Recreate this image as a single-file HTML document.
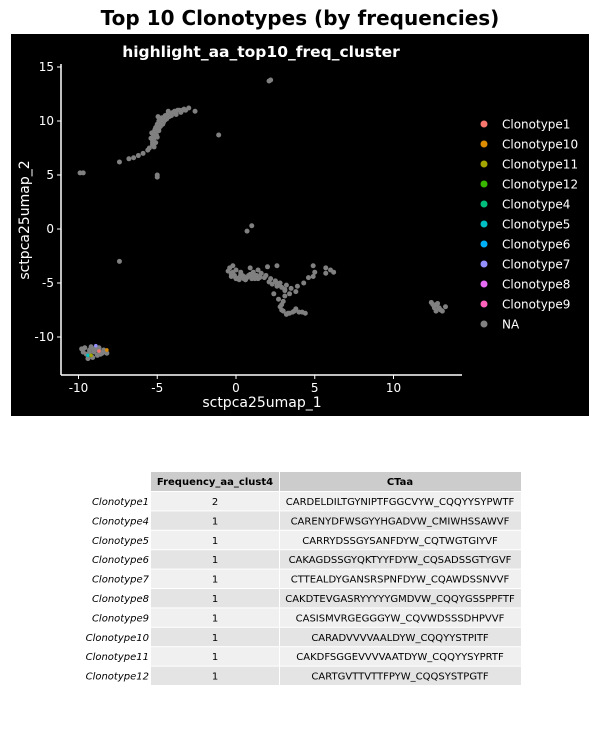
<!DOCTYPE html>
<html><head><meta charset="utf-8"><style>
body{margin:0;width:600px;height:750px;background:#fff;font-family:"DejaVu Sans","Liberation Sans",sans-serif;overflow:hidden}
svg{position:absolute;left:0;top:0}
</style></head><body>
<svg id="chart" width="600" height="750">
<text x="300" y="25" text-anchor="middle" font-size="20" font-weight="bold" fill="#000">Top 10 Clonotypes (by frequencies)</text>
<rect x="11" y="34" width="578" height="382" fill="#000"/>
<text x="261" y="57" text-anchor="middle" font-size="15.5" font-weight="bold" fill="#fff">highlight_aa_top10_freq_cluster</text>
<g id="points"></g>
<line x1="61" y1="64" x2="61" y2="375" stroke="#fff" stroke-width="1.5"/>
<line x1="61" y1="375" x2="462" y2="375" stroke="#fff" stroke-width="1.5"/>
<g id="axes"></g>
<text x="262" y="407" text-anchor="middle" font-size="14" fill="#fff">sctpca25umap_1</text>
<text x="29" y="220" text-anchor="middle" font-size="14" fill="#fff" transform="rotate(-90 29 220)">sctpca25umap_2</text>
<g id="legend"></g>
<g id="table"></g>
</svg>
<script>
const xTicks=[-10,-5,0,5,10];
const yTicks=[15,10,5,0,-5,-10];
const umapX=[-5.3,-5.3,-5.25,-5.2,-5.1,-5.0,-4.9,-4.7,-4.5,-4.2,-3.9,-3.6,-3.3,-3.0,-2.6,-5.1,-5.0,-4.9,-4.8,-4.6,-4.4,-4.1,-3.8,-3.5,-5.4,-5.2,-4.7,-5.35,-5.15,-4.95,-4.3,-3.7,
-5.3,-5.2,-5.1,-5.0,-4.85,-4.75,-4.55,-4.35,-4.0,-3.4,-3.2,-5.25,-5.05,-4.9,-4.65,-4.5,-4.25,
-5.6,-5.9,-6.2,-6.5,-6.8,-7.4,-5.5,-1.1,-9.9,-9.7,-5.0,-5.0,2.2,2.1,1.0,0.7,-7.4,
-0.4,-0.2,0,-0.3,0.2,0.5,0.8,1.1,1.4,1.6,1.2,0.6,0.0,1.9,2.2,2.5,2.8,2.9,3.1,2.6,2.4,2.7,3.0,2.8,3.0,3.3,3.6,4.0,4.4,3.8,3.2,3.5,3.9,4.3,4.6,3.4,2.6,2.0,4.9,5.0,4.9,5.7,6.0,6.2,5.7,3.8,0.9,0.3,1.5,-0.2,0.4,1.0,-0.1,
-0.5,-0.3,-0.1,0.1,0.3,0.5,0.7,0.9,1.1,1.3,1.5,0.2,0.6,1.0,1.4,1.8,2.1,2.3,2.7,3.1,2.9,3.2,3.4,3.7,4.2,2.9,3.1,2.6,
12.4,12.7,12.9,13.1,12.7,13.3,12.8,12.6,13.0,12.5,
-9.6,-9.3,-9.0,-8.7,-8.4,-9.5,-9.1,-8.8,-9.4,-9.2,-8.5,-9.7,-8.9,-8.3,-9.0,-8.6,-8.2,-9.8,-9.3,-8.7,
-8.7,-8.2,-8.9,-9.4,-9.2];
const umapY=[7.8,8.2,8.6,9.0,9.4,9.7,10.0,10.3,10.5,10.7,10.9,11.0,11.1,11.2,10.9,8.0,8.5,9.1,9.5,9.9,10.2,10.5,10.6,10.8,8.4,7.6,9.8,8.9,9.2,10.4,10.9,11.0,
8.0,8.4,8.8,9.2,9.6,10.0,10.3,10.6,10.8,11.0,11.0,8.3,8.7,9.3,9.7,10.1,10.4,
7.3,7.0,6.8,6.6,6.5,6.2,7.5,8.7,5.2,5.2,5.0,4.8,13.8,13.7,0.3,-0.2,-3.0,
-3.6,-3.4,-3.8,-4.2,-4.5,-4.4,-4.3,-4.0,-3.8,-4.1,-4.6,-4.7,-4.6,-4.3,-4.6,-4.8,-5.0,-5.4,-5.6,-5.3,-6.0,-6.5,-6.7,-7.2,-7.6,-7.8,-7.7,-7.7,-7.8,-7.4,-5.2,-5.5,-5.3,-5.0,-4.5,-6.0,-3.4,-3.5,-3.4,-4.0,-4.4,-3.6,-3.8,-4.0,-4.1,-5.8,-3.6,-4.0,-4.5,-4.0,-4.3,-4.5,-4.4,
-3.9,-4.4,-4.3,-4.6,-4.2,-4.6,-4.5,-4.2,-4.4,-4.3,-4.4,-4.7,-4.7,-4.6,-4.6,-4.5,-4.9,-5.1,-5.2,-5.7,-7.5,-7.9,-7.8,-7.6,-7.7,-7.0,-6.2,-5.0,
-6.8,-7.0,-7.3,-7.6,-7.6,-7.2,-6.9,-7.3,-7.5,-7.0,
-11.0,-11.2,-11.4,-11.3,-11.2,-11.6,-11.9,-11.7,-12.0,-10.9,-11.5,-11.4,-11.0,-11.4,-11.2,-11.6,-11.5,-11.1,-11.4,-11.0,
-11.3,-11.2,-10.8,-11.7,-11.7];
const pointGroup=umapX.map((_,i)=>'NA');
pointGroup[umapX.length-5]='Clonotype1';
pointGroup[umapX.length-4]='Clonotype10';
pointGroup[umapX.length-3]='Clonotype7';
pointGroup[umapX.length-2]='Clonotype5';
pointGroup[umapX.length-1]='Clonotype11';
const legendLabels=['Clonotype1','Clonotype10','Clonotype11','Clonotype12','Clonotype4','Clonotype5','Clonotype6','Clonotype7','Clonotype8','Clonotype9','NA'];
const legendColors=['#F8766D','#DE8C00','#A3A500','#39B600','#00BF7D','#00BFC4','#00B0F6','#9590FF','#E76BF3','#FF62BC','#808080'];
const tableRows=['Clonotype1','Clonotype4','Clonotype5','Clonotype6','Clonotype7','Clonotype8','Clonotype9','Clonotype10','Clonotype11','Clonotype12'];
const tableFreq=[2,1,1,1,1,1,1,1,1,1];
const tableCTaa=['CARDELDILTGYNIPTFGGCVYW_CQQYYSYPWTF','CARENYDFWSGYYHGADVW_CMIWHSSAWVF','CARRYDSSGYSANFDYW_CQTWGTGIYVF','CAKAGDSSGYQKTYYFDYW_CQSADSSGTYGVF','CTTEALDYGANSRSPNFDYW_CQAWDSSNVVF','CAKDTEVGASRYYYYYGMDVW_CQQYGSSPPFTF','CASISMVRGEGGGYW_CQVWDSSSDHPVVF','CARADVVVVAALDYW_CQQYYSTPITF','CAKDFSGGEVVVVAATDYW_CQQYYSYPRTF','CARTGVTTVTTFPYW_CQQSYSTPGTF'];

const NS='http://www.w3.org/2000/svg';
const sx=v=>236+v*15.75, sy=v=>229-v*10.8;
function mk(tag,attrs,parent){const e=document.createElementNS(NS,tag);for(const k in attrs)e.setAttribute(k,attrs[k]);parent.appendChild(e);return e;}
const pts=document.getElementById('points');
const order=umapX.map((_,i)=>i).sort((a,b)=>(pointGroup[a]==='NA'?0:1)-(pointGroup[b]==='NA'?0:1));
order.forEach(i=>{
  const na=pointGroup[i]==='NA';
  const c=mk('circle',{cx:sx(umapX[i]),cy:sy(umapY[i]),r:na?2.5:1.8,fill:legendColors[legendLabels.indexOf(pointGroup[i])]},pts);
  
  
});
const ax=document.getElementById('axes');
xTicks.forEach(t=>{
  const l=mk('line',{x1:sx(t),x2:sx(t),y1:375,y2:379,stroke:'#fff'},ax);
  
  
  const tx=mk('text',{x:sx(t),y:392,'text-anchor':'middle','font-size':12,fill:'#fff'},ax);tx.textContent=t;
  
  
});
yTicks.forEach(t=>{
  const l=mk('line',{x1:57,x2:61,y1:sy(t),y2:sy(t),stroke:'#fff'},ax);
  
  
  const tx=mk('text',{x:54,y:sy(t)+4,'text-anchor':'end','font-size':12,fill:'#fff'},ax);tx.textContent=t;
  
  
});
const lg=document.getElementById('legend');
legendLabels.forEach((lab,i)=>{
  const y=124+i*20;
  const c=mk('circle',{cx:484,cy:y,r:3.5,fill:legendColors[i]},lg);
  
  
  const t=mk('text',{x:502,y:y+4.5,'font-size':12,fill:'#fff'},lg);t.textContent=lab;
  
  
});
const tb=document.getElementById('table');
mk('rect',{x:151,y:472,width:128,height:19,fill:'#cccccc'},tb);
mk('rect',{x:280,y:472,width:241,height:19,fill:'#cccccc'},tb);
const ht1=mk('text',{x:215,y:485,'text-anchor':'middle','font-size':10,'font-weight':'bold',fill:'#000'},tb);ht1.textContent='Frequency_aa_clust4';


const ht2=mk('text',{x:400,y:485,'text-anchor':'middle','font-size':10,'font-weight':'bold',fill:'#000'},tb);ht2.textContent='CTaa';


tableRows.forEach((r,i)=>{
  const y=492+i*19.4, fill=i%2?'#e4e4e4':'#f0f0f0';
  mk('rect',{x:151,y:y,width:128,height:18.4,fill:fill},tb);
  mk('rect',{x:280,y:y,width:241,height:18.4,fill:fill},tb);
  const a=mk('text',{x:149,y:y+13,'text-anchor':'end','font-size':10,'font-style':'italic',fill:'#000'},tb);a.textContent=r;
  
  
  const b=mk('text',{x:215,y:y+13,'text-anchor':'middle','font-size':10,fill:'#000'},tb);b.textContent=tableFreq[i];
  
  
  const c=mk('text',{x:400,y:y+13,'text-anchor':'middle','font-size':10,fill:'#000'},tb);c.textContent=tableCTaa[i];
  
  
});
</script>
</body></html>
